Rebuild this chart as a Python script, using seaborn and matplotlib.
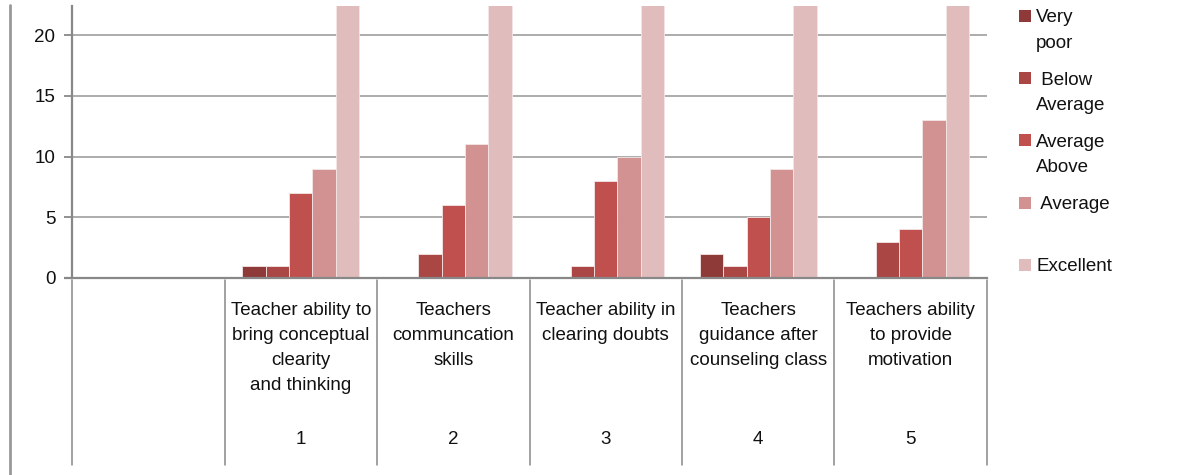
import matplotlib
matplotlib.use("Agg")
import matplotlib.pyplot as plt
import matplotlib.transforms as mtransforms
from matplotlib.patches import Rectangle
import numpy as np
import pandas as pd
import seaborn as sns

CATEGORIES = ["1", "2", "3", "4", "5"]
CATEGORY_TEXT = [
    "Teacher ability to\nbring conceptual\nclearity\nand thinking",
    "Teachers\ncommuncation\nskills",
    "Teacher ability in\nclearing doubts",
    "Teachers\nguidance after\ncounseling class",
    "Teachers ability\nto provide\nmotivation",
]
RATINGS = ["Very\npoor", " Below\nAverage", "Average\nAbove", " Average", "Excellent"]
VERY_POOR = [1, 0, 0, 2, 0]
BELOW_AVERAGE = [1, 2, 1, 1, 3]
AVERAGE = [7, 6, 8, 5, 4]
ABOVE_AVERAGE = [9, 11, 10, 9, 13]
EXCELLENT = [32, 31, 31, 33, 30]  # clipped at the top in the original
COLORS = ["#8e3a38", "#aa4644", "#c0504d", "#d29292", "#e1bcbd"]

GRID_COLOR = "#a6a6a6"
AXIS_COLOR = "#888888"
TEXT_COLOR = "#111111"
FONT = ["Liberation Sans", "DejaVu Sans"]
FS = 13.5

series = [VERY_POOR, BELOW_AVERAGE, AVERAGE, ABOVE_AVERAGE, EXCELLENT]
rows = []
for rating, values in zip(RATINGS, series):
    for cat, v in zip(CATEGORIES, values):
        rows.append({"Category": cat, "Rating": rating, "Count": v})
df = pd.DataFrame(rows)

sns.set_style("white")
plt.rcParams["font.family"] = FONT

W, H = 1189, 475
fig = plt.figure(figsize=(W / 100, H / 100), dpi=100)
ax = fig.add_axes([72 / W, 1 - 278 / H, (987 - 72) / W, (278 - 6) / H])

order = [" "] + CATEGORIES
sns.barplot(
    data=df,
    x="Category",
    y="Count",
    hue="Rating",
    order=order,
    hue_order=RATINGS,
    palette=COLORS,
    saturation=1,
    width=0.77,
    edgecolor="#f3e6e6",
    linewidth=0.6,
    errorbar=None,
    legend=False,
    ax=ax,
    zorder=2,
)

ax.set_ylim(0, 22.4)
ax.set_xlim(-0.5, 5.5)
ax.set_yticks([0, 5, 10, 15, 20])
ax.yaxis.grid(True, color=GRID_COLOR, linewidth=1.3)
ax.set_axisbelow(True)
ax.set_xlabel("")
ax.set_ylabel("")
ax.set_xticks([])

for side in ["top", "right"]:
    ax.spines[side].set_visible(False)
for side in ["left", "bottom"]:
    ax.spines[side].set_color(AXIS_COLOR)
    ax.spines[side].set_linewidth(1.6)

ax.tick_params(axis="y", length=6, width=1.3, color=AXIS_COLOR, pad=6,
               labelsize=FS, labelcolor=TEXT_COLOR, left=True)

# extend zero line left like the tick marks
ax.plot([-0.5 - 8 / 152.5, -0.5], [0, 0], color=AXIS_COLOR, lw=1.6,
        clip_on=False, solid_capstyle="butt")

# table-like category axis below the plot
trans = mtransforms.blended_transform_factory(ax.transData, fig.transFigure)
y_top = 1 - 280 / H
y_bot = 1 - 465 / H
for b in np.arange(-0.5, 6.0, 1.0):
    ax.plot([b, b], [y_top, y_bot], transform=trans, color=AXIS_COLOR,
            lw=1.1, clip_on=False)

for i, (num, label) in enumerate(zip(CATEGORIES, CATEGORY_TEXT), start=1):
    ax.text(i, 1 - 302 / H, label, transform=trans, ha="center", va="top",
            fontsize=FS, linespacing=1.62, color=TEXT_COLOR)
    ax.text(i, 1 - 440 / H, num, transform=trans, ha="center", va="center",
            fontsize=FS, color=TEXT_COLOR)

# left border line
fig.add_artist(plt.Line2D([9.5 / W, 9.5 / W], [0, 1 - 5 / H],
                          color="#999999", lw=2))

# legend: square next to the first line of each label, fixed slot height
for i, (label, color) in enumerate(zip(RATINGS, COLORS)):
    yc = 16 + i * 62.2
    fig.add_artist(Rectangle((1019 / W, 1 - (yc + 6) / H), 12 / W, 12 / H,
                             transform=fig.transFigure, facecolor=color,
                             edgecolor="none"))
    fig.text(1036 / W, 1 - (yc - 6.5) / H, label, ha="left", va="top",
             fontsize=FS, linespacing=1.62, color=TEXT_COLOR)

fig.savefig("out.png", dpi=100)
